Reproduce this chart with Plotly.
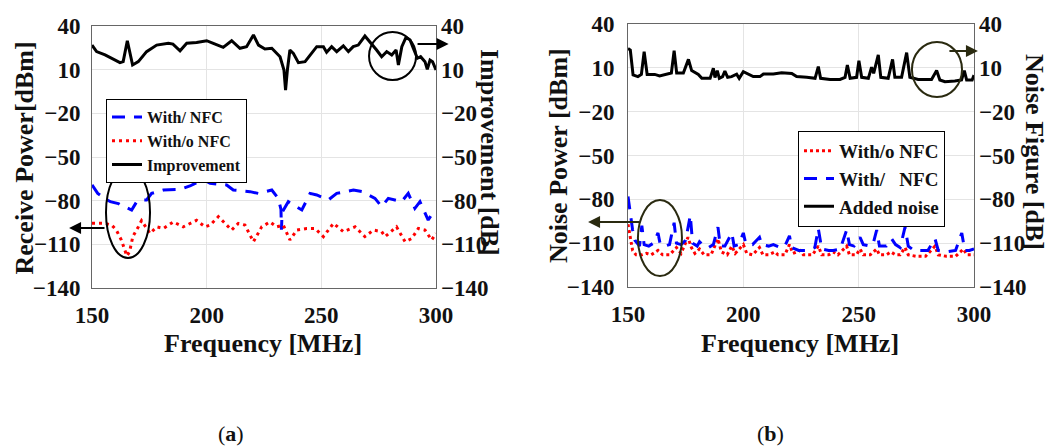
import plotly.graph_objects as go

# ---------------- data: panel (a) ----------------
freq_imp = [150, 152, 155.7, 158.6, 162.2, 163.6, 165.4, 167.7, 170.2, 173.8, 178.2, 183.3, 185.3,
            188.4, 191.3, 195.6, 200, 202.9, 207.2, 210.9, 214.5, 217.4, 220.4, 222.6, 225.4, 228.4,
            232.0, 233.7, 234.4, 235.2, 236.3, 237.8, 240.0, 242.9, 245.1, 248.0, 250.9, 252.3, 254.5,
            256.7, 259.6, 261.8, 263.9, 266.1, 269.0, 271.2, 274.1, 276.3, 278.5, 280.7, 282.6, 283.6,
            285.1, 286.9, 288.7, 290.1, 291.9, 293.3, 295.2, 296.2, 297.4, 298.5, 300]
improvement = [26.9, 22.4, 20.1, 17.8, 14.8, 15.5, 29.9, 13.2, 15.5, 22.4, 26.9, 28.1, 27.6,
               23.0, 28.1, 28.6, 29.9, 28.1, 25.3, 29.9, 24.7, 25.8, 33.8, 26.9, 24.2, 24.7,
               18.9, 9.8, -4.0, 9.8, 23.5, 21.2, 14.8, 15.5, 20.1, 25.8, 25.8, 22.0, 25.8,
               22.4, 26.4, 22.4, 25.8, 26.9, 33.1, 29.2, 23.5, 18.9, 22.4, 20.1, 23.5, 13.2,
               25.8, 32.2, 30.4, 24.7, 17.8, 18.9, 15.5, 10.2, 16.6, 15.5, 9.8]

freq_with_a = [150, 152.5, 155.5, 158, 161.5, 163.7, 165.5, 167.3, 169.5, 171.5, 173.8, 176, 181.1,
               188.4, 192.7, 198.5, 201.5, 208.7, 211.6, 218.9, 222.5, 228.4, 231.2, 232.4, 232.6,
               232.9, 235.6, 239.3, 241.5, 245.1, 248, 253.1, 256.7, 264, 267.7, 273.4, 276.3, 279.2,
               282.1, 285, 287.9, 290.8, 293, 296.6, 298, 300]
with_nfc_a = [-69.2, -75, -78.4, -80.7, -82, -84.1, -85, -86.4, -80.7, -79.5, -79.5, -75, -72.7,
              -72.3, -69.9, -65.3, -68.1, -69.2, -72.7, -73.8, -75, -72.7, -78.4, -86, -100,
              -88, -80.7, -84.1, -86.4, -75, -76.1, -79.5, -75, -72.7, -73.8, -78.4, -84.1, -78.4,
              -79.5, -80.7, -75, -85.3, -80.7, -93.3, -89.9, -88]

freq_wo_a = [150, 155.7, 158.6, 160.6, 162.8, 165.2, 166.4, 167.8, 170.2, 171.6, 175.3, 178.2, 181.1,
             185.5, 189.8, 195.6, 199.3, 201.5, 205.1, 208.7, 210.9, 213.8, 216.7, 220.4, 224, 227.6,
             230.5, 233.4, 236.3, 239.3, 243.6, 247.3, 250.9, 255.3, 259.6, 264.7, 269, 272.7, 276.3,
             277.8, 282.8, 286.5, 289.4, 292.3, 295.2, 298.1, 300]
without_nfc_a = [-95.6, -95.6, -96.8, -100.2, -107, -118, -115, -104.7, -98, -93.7, -102.5, -98, -99.1,
                 -94.6, -98, -93.5, -98, -96.8, -91, -96.8, -100.2, -95.6, -96.8, -108.2, -98, -94.6,
                 -98, -96.8, -107, -100.2, -99.1, -99.1, -104.7, -95.6, -101.3, -98, -104.7, -100.2, -101.3,
                 -104.7, -98, -108.2, -106, -99.1, -100.2, -107, -102.5]

# ---------------- data: panel (b) ----------------
freq_noise_fig = [150, 151, 152.2, 154.3, 155.8, 157, 158.3, 161.6, 163.7, 166.6, 168.8, 170, 171.1,
                  174, 176.2, 177.6, 180.5, 182, 185.6, 187, 187.7, 188.7, 189.6, 191, 192, 193.2,
                  194.9, 197.1, 198.2, 200, 201.4, 204.3, 207.2, 208.7, 213, 216.6, 221, 223.1, 227.5,
                  231.1, 232.5, 233.5, 237.6, 241.9, 244.1, 245.1, 246.3, 249.1, 250.1, 251.3, 254.2,
                  255.6, 256.5, 258.5, 259.6, 262.8, 264.7, 265.7, 268.6, 270.8, 272.2, 275.8, 281.6,
                  283.8, 285.2, 287.4, 291.7, 294.6, 295.8, 296.8, 299.2, 300]
added_noise = [23.3, 22.2, 5.1, 4.0, 5.5, 21.1, 5.5, 5.5, 4.5, 5.5, 6.5, 21.8, 6.5,
               6.5, 15.8, 8.1, 5.5, 2.8, 2.8, 9.7, 3.4, 8.1, 2.8, 4.0, 7.8, 3.5,
               4.0, 5.6, 2.8, 7.4, 6.2, 4.0, 4.0, 5.8, 5.8, 6.7, 6.2, 4.0, 3.5,
               2.8, 10.8, 2.8, 2.1, 2.1, 3.5, 11.9, 2.8, 3.5, 14.9, 3.5, 2.8,
               10.5, 6.2, 18.8, 3.5, 2.8, 15.8, 3.5, 3.5, 20.4, 3.5, 2.1, 2.1,
               8.1, 1.7, 0.5, 1.0, 1.7, 8.1, 1.7, 1.7, 5.0]

freq_wo_b = [150, 151, 152, 153.5, 156, 158, 160, 163, 165, 168, 171, 173, 176, 177.5, 179, 181, 183,
             186, 189, 190.5, 193, 195, 196.5, 200, 201.5, 204, 207, 208.5, 211, 213.7, 215, 218, 220,
             221.5, 224.6, 226, 230, 232.5, 234, 237, 239, 241, 244.8, 246, 249, 250.6, 252, 255,
             257.8, 259, 262, 264, 266, 268, 270.1, 271.5, 275, 279, 283.1, 284.5, 288, 292, 295.4,
             297, 300]
without_nfc_b = [-97, -107, -115, -118, -118, -117, -118, -115, -118, -118, -113, -117, -106, -113, -117,
                 -114, -118, -118, -107, -116, -118, -112, -117, -111, -117, -118, -113, -118, -118, -116,
                 -118, -118, -111, -117, -115, -118, -118, -112, -118, -118, -116, -118, -112, -118, -118,
                 -114, -118, -118, -114, -118, -118, -116, -118, -118, -113, -118, -119, -119, -112, -118,
                 -119, -119, -114, -118, -118]

freq_with_b = [150, 151, 152, 153, 155, 156, 157, 159, 161, 163, 164, 166, 168, 170, 171, 173, 175, 177,
               178, 180, 181, 183, 185, 187, 189, 190, 192, 195, 196, 198, 200, 201, 204, 207, 208, 211,
               213, 216, 218, 220, 221, 224, 228, 231, 232.5, 234, 237, 239, 242, 244.8, 246, 248, 250.6,
               252, 255, 256.5, 257.8, 259, 262, 264.3, 266, 268, 270.1, 271.5, 274, 277, 280, 283.1,
               284.5, 288, 292, 294.7, 296, 298, 300]
with_nfc_b = [-78, -90, -101, -108, -112, -98, -111, -112, -110, -103, -111, -112, -111, -96, -110, -111,
              -108, -91, -110, -112, -109, -112, -113, -111, -99, -112, -112, -103, -112, -111, -103, -110,
              -111, -106, -111, -112, -111, -113, -112, -105, -113, -115, -115, -113, -100, -114, -115,
              -115, -114, -101, -111, -112, -106, -111, -112, -109, -101, -112, -112, -107, -111, -113,
              -99, -112, -115, -115, -115, -107, -115, -116, -115, -103, -115, -115, -114]

y_ticks = [-140, -110, -80, -50, -20, 10, 40]
x_ticks = [150, 200, 250, 300]

FONT = "Liberation Serif"
W, H = 1055, 448


def px(x):
    return x / W


def py(y):
    return 1 - y / H


fig = go.Figure()

# panel (a)
fig.add_trace(go.Scatter(x=freq_with_a, y=with_nfc_a, mode="lines", name="With/ NFC",
                         line=dict(color="#0000ff", width=3, dash="13px,9px"),
                         xaxis="x", yaxis="y", legend="legend"))
fig.add_trace(go.Scatter(x=freq_wo_a, y=without_nfc_a, mode="lines", name="With/o NFC",
                         line=dict(color="#ff0000", width=3, dash="3px,4px"),
                         xaxis="x", yaxis="y", legend="legend"))
fig.add_trace(go.Scatter(x=freq_imp, y=improvement, mode="lines", name="Improvement",
                         line=dict(color="#000000", width=3),
                         xaxis="x", yaxis="y2", legend="legend"))

# panel (b)
fig.add_trace(go.Scatter(x=freq_wo_b, y=without_nfc_b, mode="lines", name="With/o NFC",
                         line=dict(color="#ff0000", width=3, dash="3px,3px"),
                         xaxis="x2", yaxis="y3", legend="legend2"))
fig.add_trace(go.Scatter(x=freq_with_b, y=with_nfc_b, mode="lines", name="With/\u00a0\u00a0\u00a0NFC",
                         line=dict(color="#0000ff", width=3, dash="13px,9px"),
                         xaxis="x2", yaxis="y3", legend="legend2"))
fig.add_trace(go.Scatter(x=freq_noise_fig, y=added_noise, mode="lines", name="Added noise",
                         line=dict(color="#000000", width=3),
                         xaxis="x2", yaxis="y4", legend="legend2"))

tickfont = dict(family=FONT, size=23, color="#111111", weight="bold")
axis_common = dict(range=[-140, 40], tickvals=y_ticks, gridcolor="#e4e4e4",
                   gridwidth=1, zeroline=False, tickfont=tickfont, ticks="", fixedrange=True,
                   automargin=False)
xaxis_common = dict(range=[150, 300], tickvals=x_ticks, showgrid=True, gridcolor="#e4e4e4",
                    zeroline=False, tickfont=tickfont, ticks="", showline=True, linecolor="#666666",
                    linewidth=1, mirror=True, ticklabelstandoff=6, automargin=False)

fig.update_layout(
    template="none",
    width=W, height=H, autosize=False,
    margin=dict(l=0, r=0, t=0, b=0, pad=0),
    paper_bgcolor="white", plot_bgcolor="white",
    xaxis=dict(domain=[px(92), px(436)], anchor="y", **xaxis_common),
    yaxis=dict(domain=[py(288), py(26)], anchor="x", showline=True, linecolor="#666666",
               linewidth=1, mirror=True, ticklabelstandoff=6, showgrid=True, **axis_common),
    yaxis2=dict(overlaying="y", side="right", anchor="x", showline=False,
                ticklabelstandoff=4, showgrid=False, **axis_common),
    xaxis2=dict(domain=[px(628), px(974)], anchor="y3", **xaxis_common),
    yaxis3=dict(domain=[py(287), py(24)], anchor="x2", showline=True, linecolor="#666666",
                linewidth=1, mirror=True, ticklabelstandoff=8, showgrid=True, **axis_common),
    yaxis4=dict(overlaying="y3", side="right", anchor="x2", showline=False,
                ticklabelstandoff=4, showgrid=False, **axis_common),
    legend=dict(x=px(106), y=py(99), xanchor="left", yanchor="top",
                bgcolor="white", bordercolor="#000000", borderwidth=1,
                font=dict(family=FONT, size=16, color="#111111", weight="bold"),
                tracegroupgap=0, itemwidth=30),
    legend2=dict(x=px(798), y=py(131), xanchor="left", yanchor="top",
                 bgcolor="white", bordercolor="#000000", borderwidth=1,
                 font=dict(family=FONT, size=19, color="#111111", weight="bold"),
                 tracegroupgap=0, itemwidth=30),
    showlegend=True,
)

title_font = dict(family=FONT, size=26, color="#111111")
annots = [
    dict(text="<b>Receive Power[dBm]</b>", x=px(23.5), y=py(158), textangle=-90),
    dict(text="<b>Improvement [dB]</b>", x=px(490), y=py(152), textangle=90),
    dict(text="<b>Noise Power [dBm]</b>", x=px(558), y=py(156), textangle=-90),
    dict(text="<b>Noise Figure [dB]</b>", x=px(1035), y=py(152), textangle=90),
    dict(text="<b>Frequency [MHz]</b>", x=px(263), y=py(343), textangle=0),
    dict(text="<b>Frequency [MHz]</b>", x=px(800), y=py(343), textangle=0),
]
for a in annots:
    fig.add_annotation(xref="paper", yref="paper", showarrow=False, xanchor="center",
                       yanchor="middle", font=title_font, **a)

for lbl, xc in [("a", 231), ("b", 770)]:
    fig.add_annotation(xref="paper", yref="paper", showarrow=False, x=px(xc), y=py(433),
                       xanchor="center", yanchor="middle", text=f"(<b>{lbl}</b>)",
                       font=dict(family=FONT, size=22, color="#111111"))

# ellipses marking regions
fig.add_shape(type="circle", xref="x", yref="y", x0=270.8, x1=291.3, y0=2.9, y1=35.9,
              line=dict(color="#000000", width=2))
fig.add_shape(type="circle", xref="x", yref="y", x0=156.1, x1=175.3, y0=-119.4, y1=-56.9,
              line=dict(color="#000000", width=2))
fig.add_shape(type="circle", xref="x2", yref="y3", x0=273.1, x1=294.8, y0=-10, y1=27.7,
              line=dict(color="#2a2a10", width=2))
fig.add_shape(type="circle", xref="x2", yref="y3", x0=154.3, x1=173.4, y0=-132.5, y1=-80.5,
              line=dict(color="#2a2a10", width=2))

# arrows pointing to the relevant axis
arrows = [
    dict(xref="x", yref="y", axref="x", ayref="y", x=305.5, y=27.6, ax=291.3, ay=27.6, arrowcolor="#000000"),
    dict(xref="x", yref="y", axref="x", ayref="y", x=140.0, y=-98.8, ax=156.1, ay=-98.8, arrowcolor="#000000"),
    dict(xref="x2", yref="y3", axref="x2", ayref="y3", x=301.7, y=21.5, ax=288.7, ay=21.5, arrowcolor="#2a2a10"),
    dict(xref="x2", yref="y3", axref="x2", ayref="y3", x=132.7, y=-95.5, ax=155.6, ay=-95.5, arrowcolor="#2a2a10"),
]
for a in arrows:
    fig.add_annotation(text="", showarrow=True, arrowhead=2, arrowsize=1.2, arrowwidth=2, **a)

fig.write_html("out.html")
